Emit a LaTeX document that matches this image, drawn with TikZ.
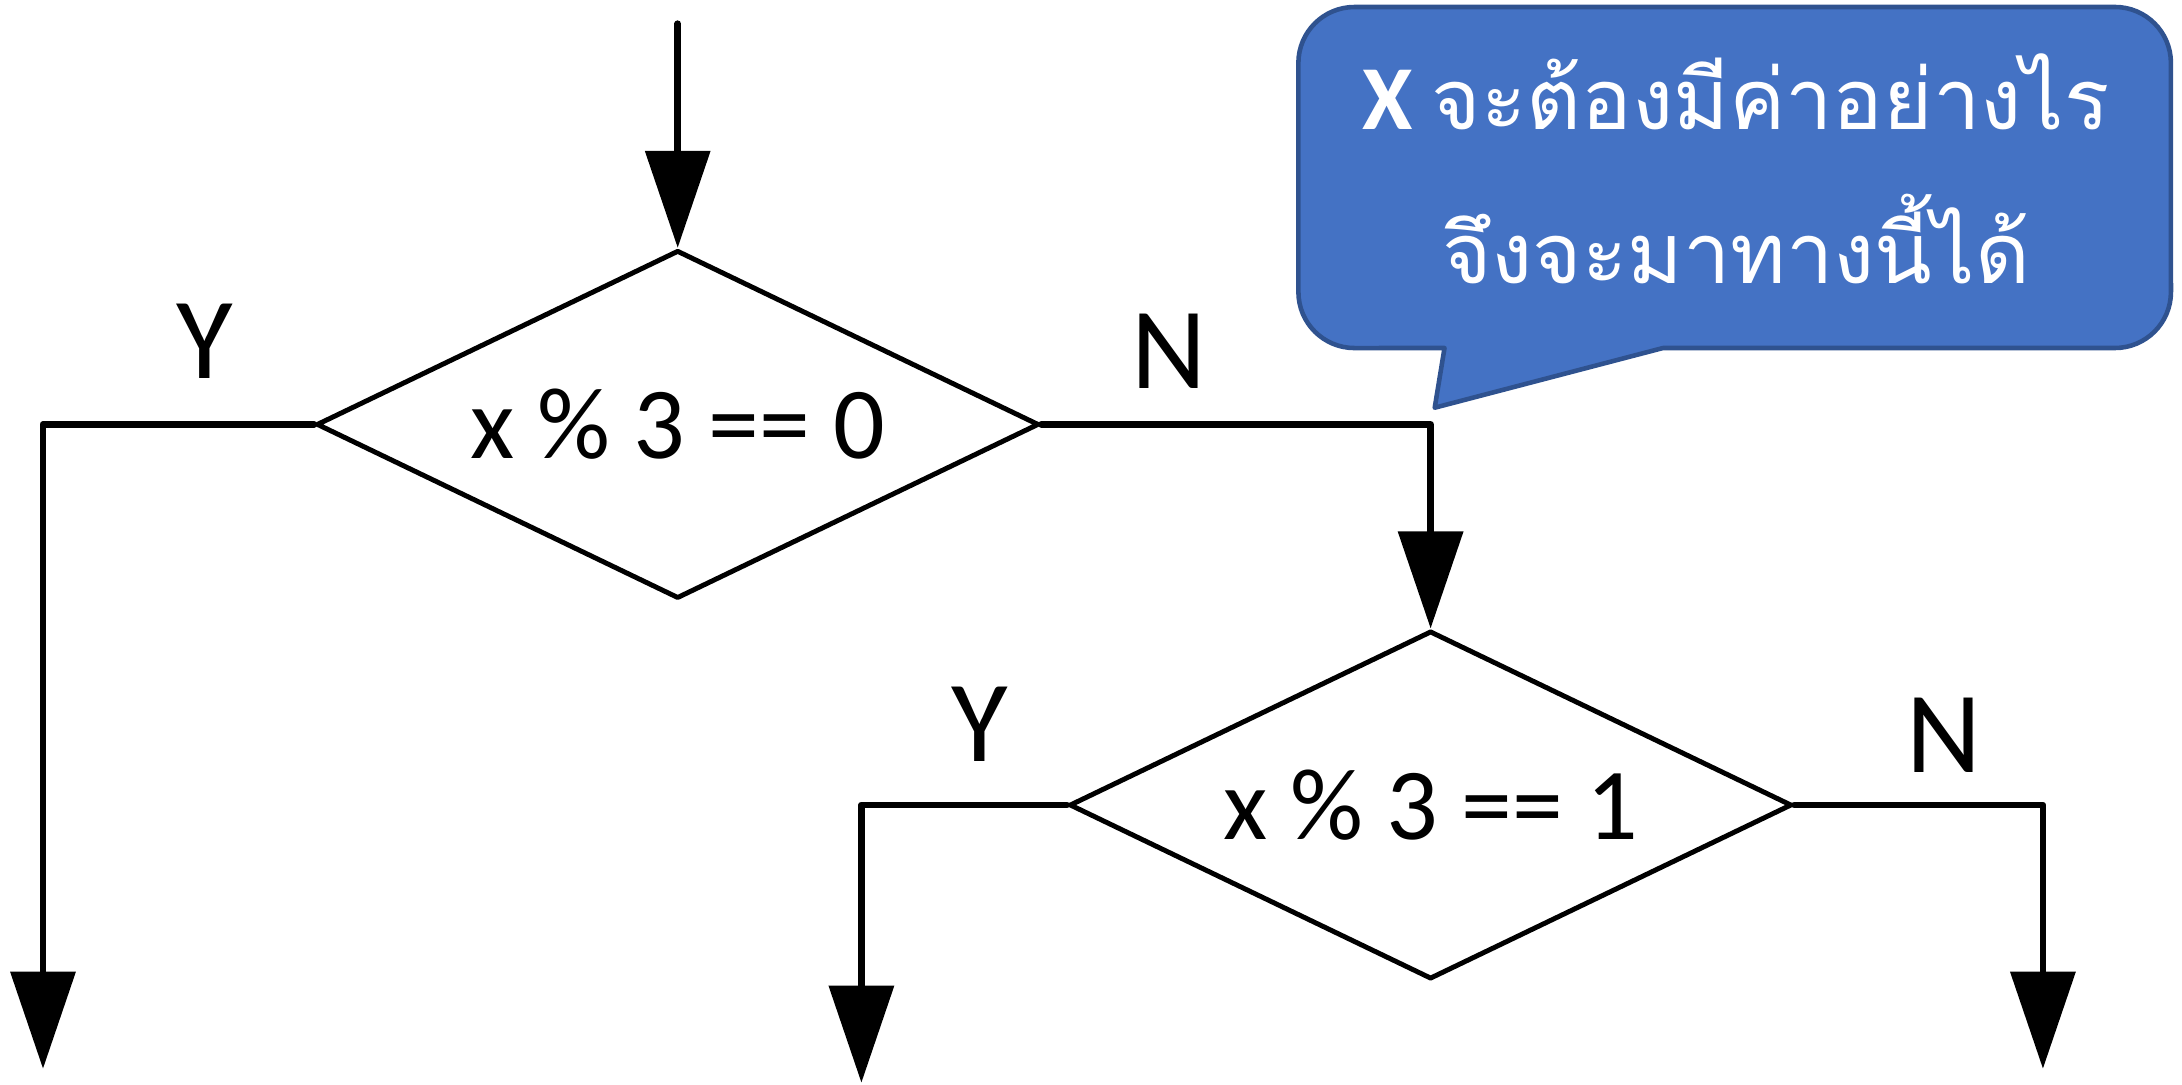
\documentclass[tikz,border=0pt]{standalone}
\usepackage{fontspec}
\setmainfont{Carlito}
\newfontfamily\thaifont[Script=Thai]{Loma}
\usetikzlibrary{shapes.geometric,arrows.meta}
\definecolor{calloutfill}{HTML}{4472C4}
\definecolor{calloutdraw}{HTML}{2F528F}
\begin{document}
\begin{tikzpicture}[x=0.01cm,y=-0.01cm, line join=round, line cap=round,
  decision/.style={diamond, draw, line width=1.4pt, minimum width=7.22cm, minimum height=3.48cm, inner sep=0pt, aspect=2.07, font=\fontsize{29}{35}\selectfont},
  flow/.style={line width=1.9pt, -{Triangle[length=0.97cm,width=0.64cm]}},
  lbl/.style={anchor=base, font=\fontsize{33}{40}\selectfont},
  callouttext/.style={anchor=base, text=white, font=\fontsize{24}{30}\selectfont}]
\useasboundingbox (0,0) rectangle (2182,1084);

% callout
\draw[fill=calloutfill, draw=calloutdraw, line width=1.3pt]
  (1663,348) -- (2114.9,348) arc[start angle=270, end angle=360, radius=0.56cm]
  -- (2170.9,63) arc[start angle=0, end angle=90, radius=0.56cm]
  -- (1354.4,7) arc[start angle=90, end angle=180, radius=0.56cm]
  -- (1298.4,292) arc[start angle=180, end angle=270, radius=0.56cm]
  -- (1444.5,348) -- (1434.7,407.7) -- cycle;
\node[callouttext] (q1) at (1736,129.4) {{\fontsize{26}{30}\selectfont\bfseries X} \thaifont จะต้องมีค่าอย่างไร};
\node[callouttext] (q2) at (1736,283.9) {\thaifont จึงจะมาทางนี้ได้};

% decisions
\node[decision] (d1) at (677.7,424.4) {x \% 3 == 0};
\node[decision] (d2) at (1430.6,805) {x \% 3 == 1};

% labels
\node[lbl] (y1) at (204.6,378.5) {Y};
\node[lbl] (n1) at (1169,388) {N};
\node[lbl] (y2) at (979.7,761) {Y};
\node[lbl] (n2) at (1944,772) {N};

% connectors
\coordinate (s) at (677.7,23.7);
\coordinate (e1) at (43,1068.7);
\coordinate (e2) at (861.4,1082.7);
\coordinate (e3) at (2042.9,1068.7);
\draw[flow] (s) -- (d1.north);
\draw[flow] (d1.west) -| (e1);
\draw[flow] (d1.east) -| (d2.north);
\draw[flow] (d2.west) -| (e2);
\draw[flow] (d2.east) -| (e3);
\end{tikzpicture}
\end{document}
